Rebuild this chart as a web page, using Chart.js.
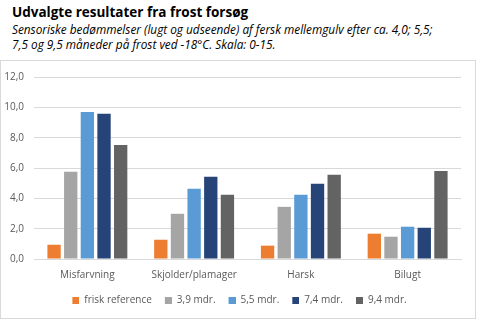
<!DOCTYPE html>
<html>
<head>
<meta charset="utf-8">
<script src="https://cdn.jsdelivr.net/npm/chart.js@4"></script>
<style>
  body { margin: 0; background: #fff; font-family: "Open Sans", sans-serif; }
  .head { position: absolute; left: 12px; top: 3px; color: #000; }
  .head h1 { margin: 0; font-size: 13.5px; font-weight: bold; line-height: 19px; }
  .head p { margin: 0; font-size: 11.8px; font-style: italic; line-height: 15px; }
  .box { position: absolute; left: 0; top: 60px; width: 474px; height: 257px; border: 1px solid #D9D9D9; }
</style>
</head>
<body>
<div class="head">
  <h1>Udvalgte resultater fra frost forsøg</h1>
  <p>Sensoriske bedømmelser (lugt og udseende) af fersk mellemgulv efter ca. 4,0; 5,5;<br>7,5 og 9,5 måneder på frost ved -18°C. Skala: 0-15.</p>
</div>
<div class="box"><canvas id="chart" width="474" height="257"></canvas></div>
<script>
const categories = ['Misfarvning', 'Skjolder/plamager', 'Harsk', 'Bilugt'];
const seriesNames = ['frisk reference', '3,9 mdr.', '5,5 mdr.', '7,4 mdr.', '9,4 mdr.'];
const friskReference = [0.94, 1.27, 0.88, 1.67];
const mdr39 = [5.75, 2.98, 3.44, 1.47];
const mdr55 = [9.7, 4.63, 4.23, 2.13];
const mdr74 = [9.57, 5.42, 4.96, 2.06];
const mdr94 = [7.52, 4.23, 5.55, 5.81];
const colors = ['#ED7D31', '#A5A5A5', '#5B9BD5', '#264478', '#636363'];

const values = [friskReference, mdr39, mdr55, mdr74, mdr94];
const tickFont = { family: 'Open Sans', size: 10 };

// legend marker: small square sitting at the right of a slightly wider slot,
// which gives the extra room between legend entries
const markerSlot = 10;
function legendMarker(color) {
  const c = document.createElement('canvas');
  c.width = markerSlot;
  c.height = 7;
  const g = c.getContext('2d');
  g.fillStyle = color;
  g.fillRect(markerSlot - 7, 0, 7, 7);
  return c;
}

// nudge the legend row a bit to the right
const legendShift = {
  id: 'legendShift',
  afterLayout(chart) {
    chart.legend.left += 7;
    chart.legend.right += 7;
  }
};

new Chart(document.getElementById('chart'), {
  type: 'bar',
  data: {
    labels: categories,
    datasets: values.map((v, i) => ({
      label: seriesNames[i],
      data: v,
      backgroundColor: colors[i],
      pointStyle: legendMarker(colors[i]),
      barPercentage: 0.8,
      categoryPercentage: 0.78
    }))
  },
  plugins: [legendShift],
  options: {
    responsive: false,
    animation: false,
    layout: { padding: { left: 0, right: 14, top: 10, bottom: 3 } },
    plugins: {
      tooltip: { enabled: false },
      legend: {
        position: 'bottom',
        labels: {
          color: '#595959',
          font: tickFont,
          usePointStyle: true,
          pointStyleWidth: markerSlot,
          boxHeight: 7,
          padding: 10
        }
      }
    },
    scales: {
      x: {
        grid: { display: false },
        border: { color: '#D9D9D9' },
        ticks: { color: '#595959', font: tickFont, padding: 2 },
        afterFit: scale => { scale.height += 2; }
      },
      y: {
        min: 0,
        max: 12,
        afterFit: scale => { scale.width = 33; },
        ticks: {
          stepSize: 2,
          color: '#595959',
          font: tickFont,
          padding: 10,
          callback: v => v.toFixed(1).replace('.', ',')
        },
        grid: { color: '#D9D9D9', drawTicks: false },
        border: { display: false }
      }
    }
  }
});
</script>
</body>
</html>
